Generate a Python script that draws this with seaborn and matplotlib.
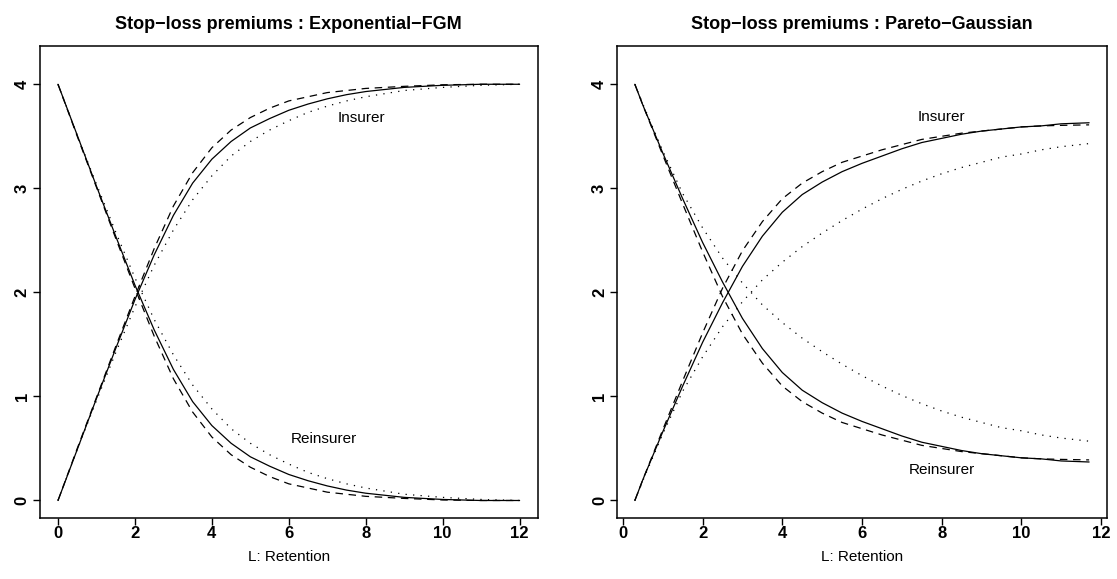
import matplotlib
matplotlib.use("Agg")
import matplotlib.pyplot as plt
import pandas as pd
import seaborn as sns

# Retention levels, exponential margins with FGM copula
L_exp = [0, 0.5, 1, 1.5, 2, 2.5, 3, 3.5, 4, 4.5, 5, 5.5, 6, 6.5, 7, 7.5, 8, 9, 10, 11, 12]
ins_exp_1 = [0, 0.49, 0.98, 1.46, 1.93, 2.36, 2.74, 3.05, 3.28, 3.45, 3.58, 3.67, 3.75, 3.81, 3.86, 3.90, 3.93, 3.97, 3.99, 4.0, 4.0]
ins_exp_2 = [0, 0.50, 0.99, 1.48, 1.96, 2.42, 2.83, 3.15, 3.39, 3.56, 3.68, 3.77, 3.84, 3.88, 3.92, 3.94, 3.96, 3.98, 3.995, 4.0, 4.0]
ins_exp_3 = [0, 0.49, 0.96, 1.42, 1.86, 2.26, 2.60, 2.89, 3.12, 3.31, 3.45, 3.56, 3.65, 3.73, 3.79, 3.84, 3.88, 3.94, 3.97, 3.99, 4.0]
re_exp_1 = [4, 3.51, 3.02, 2.54, 2.07, 1.64, 1.26, 0.95, 0.72, 0.55, 0.42, 0.33, 0.25, 0.19, 0.14, 0.10, 0.07, 0.03, 0.01, 0.0, 0.0]
re_exp_2 = [4, 3.50, 3.01, 2.52, 2.04, 1.58, 1.17, 0.85, 0.61, 0.44, 0.32, 0.23, 0.16, 0.12, 0.08, 0.06, 0.04, 0.02, 0.005, 0.0, 0.0]
re_exp_3 = [4, 3.51, 3.04, 2.58, 2.14, 1.74, 1.40, 1.11, 0.88, 0.69, 0.55, 0.44, 0.35, 0.27, 0.21, 0.16, 0.12, 0.06, 0.03, 0.01, 0.0]

# Retention levels, Pareto margins with Gaussian copula
L_par = [0.3, 0.5, 1, 1.5, 2, 2.5, 3, 3.5, 4, 4.5, 5, 5.5, 6, 6.5, 7, 7.5, 8, 8.5, 9, 9.5, 10, 10.5, 11, 11.7]
ins_par_1 = [0, 0.20, 0.66, 1.10, 1.52, 1.90, 2.25, 2.54, 2.77, 2.94, 3.06, 3.16, 3.24, 3.31, 3.38, 3.44, 3.48, 3.52, 3.55, 3.57, 3.59, 3.60, 3.62, 3.63]
ins_par_2 = [0, 0.20, 0.68, 1.15, 1.61, 2.04, 2.40, 2.68, 2.90, 3.05, 3.16, 3.25, 3.31, 3.37, 3.42, 3.47, 3.50, 3.53, 3.55, 3.57, 3.59, 3.60, 3.605, 3.61]
ins_par_3 = [0, 0.19, 0.64, 1.05, 1.38, 1.67, 1.91, 2.12, 2.29, 2.44, 2.57, 2.69, 2.80, 2.90, 2.99, 3.07, 3.14, 3.20, 3.25, 3.30, 3.33, 3.37, 3.40, 3.43]
re_par_1 = [4, 3.80, 3.34, 2.90, 2.48, 2.10, 1.75, 1.46, 1.23, 1.06, 0.94, 0.84, 0.76, 0.69, 0.62, 0.56, 0.52, 0.48, 0.45, 0.43, 0.41, 0.40, 0.38, 0.37]
re_par_2 = [4, 3.80, 3.32, 2.85, 2.39, 1.96, 1.60, 1.32, 1.10, 0.95, 0.84, 0.75, 0.69, 0.63, 0.58, 0.53, 0.50, 0.47, 0.45, 0.43, 0.41, 0.40, 0.395, 0.39]
re_par_3 = [4, 3.81, 3.36, 2.95, 2.62, 2.33, 2.09, 1.88, 1.71, 1.56, 1.43, 1.31, 1.20, 1.10, 1.01, 0.93, 0.86, 0.80, 0.75, 0.70, 0.67, 0.63, 0.60, 0.57]

x_ticks = [0, 2, 4, 6, 8, 10, 12]
y_ticks = [0, 1, 2, 3, 4]


def long_frame(L, curves):
    rows = []
    for (side, model), vals in curves.items():
        for l, v in zip(L, vals):
            rows.append((l, v, side, model))
    return pd.DataFrame(rows, columns=["L", "premium", "side", "model"])


exp_df = long_frame(L_exp, {
    ("Insurer", "m1"): ins_exp_1, ("Insurer", "m2"): ins_exp_2, ("Insurer", "m3"): ins_exp_3,
    ("Reinsurer", "m1"): re_exp_1, ("Reinsurer", "m2"): re_exp_2, ("Reinsurer", "m3"): re_exp_3,
})
par_df = long_frame(L_par, {
    ("Insurer", "m1"): ins_par_1, ("Insurer", "m2"): ins_par_2, ("Insurer", "m3"): ins_par_3,
    ("Reinsurer", "m1"): re_par_1, ("Reinsurer", "m2"): re_par_2, ("Reinsurer", "m3"): re_par_3,
})

sns.set_theme(style="ticks")
plt.rcParams["font.family"] = ["Liberation Sans", "DejaVu Sans"]
plt.rcParams.update({
    "text.color": "black",
    "axes.labelcolor": "black",
    "xtick.color": "black",
    "ytick.color": "black",
    "axes.edgecolor": "black",
})

fig = plt.figure(figsize=(11.17, 5.79), dpi=100)
ax_l = fig.add_axes([0.0354, 0.1054, 0.4463, 0.8152])
ax_r = fig.add_axes([0.5521, 0.1054, 0.4392, 0.8152])

dash_map = {"m1": "", "m2": (6, 4.5), "m3": (1, 5)}

panels = [
    (ax_l, exp_df, "Stop\u2212loss premiums : Exponential\u2212FGM", (-0.48, 12.48),
     (7.9, 3.68), (6.9, 0.59)),
    (ax_r, par_df, "Stop\u2212loss premiums : Pareto\u2212Gaussian", (-0.156, 12.156),
     (8.0, 3.69), (8.0, 0.29)),
]

for ax, df, title, xlim, ins_pos, re_pos in panels:
    sns.lineplot(data=df, x="L", y="premium", style="model", units="side",
                 estimator=None, sort=False, color="black", dashes=dash_map,
                 linewidth=0.9, legend=False, ax=ax)
    ax.set_xlim(*xlim)
    ax.set_ylim(-0.168, 4.368)
    ax.set_xticks(x_ticks)
    ax.set_yticks(y_ticks)
    ax.set_xticklabels([str(t) for t in x_ticks], fontweight="bold")
    ax.set_yticklabels([str(t) for t in y_ticks], fontweight="bold",
                       rotation=90, va="center")
    ax.tick_params(axis="both", direction="out", length=5, width=1.0,
                   labelsize=12, color="black", labelcolor="black")
    ax.tick_params(axis="x", pad=1)
    ax.tick_params(axis="y", pad=2)
    for sp in ax.spines.values():
        sp.set_visible(True)
        sp.set_linewidth(1.1)
        sp.set_color("black")
    ax.set_xlabel("L: Retention", fontsize=11, labelpad=6)
    ax.set_ylabel("")
    ax.set_title(title, fontsize=13, fontweight="bold", pad=12)
    ax.text(*ins_pos, "Insurer", ha="center", va="center", fontsize=11)
    ax.text(*re_pos, "Reinsurer", ha="center", va="center", fontsize=11)

fig.savefig("out.png", dpi=100)
